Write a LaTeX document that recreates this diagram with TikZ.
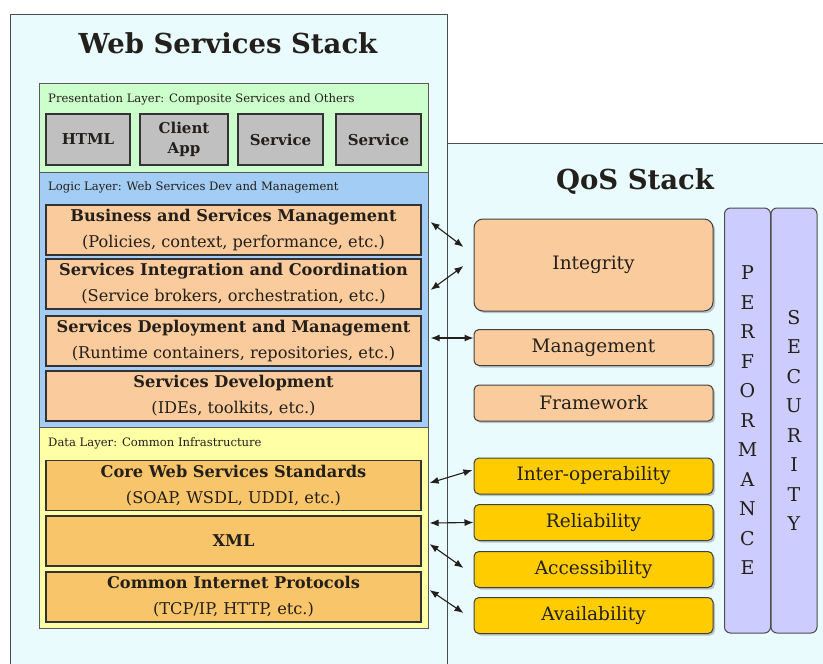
\documentclass[tikz,border=0pt]{standalone}
\usepackage{fontspec}
\setmainfont{DejaVu Serif}
\usetikzlibrary{arrows.meta,shadows}

\definecolor{stackbg}{HTML}{E9FBFD}
\definecolor{presgreen}{HTML}{CCFFCC}
\definecolor{logicblue}{HTML}{A3CDF5}
\definecolor{datayellow}{HTML}{FFFFA6}
\definecolor{peach}{HTML}{FACB9C}
\definecolor{amber}{HTML}{F8C56A}
\definecolor{gold}{HTML}{FFCC00}
\definecolor{lavender}{HTML}{CCCCFF}
\definecolor{boxgray}{HTML}{C0C0C0}
\definecolor{ink}{HTML}{231F1A}

\begin{document}
\begin{tikzpicture}[x=1pt, y=-1pt,
            every node/.style={text=ink, inner sep=0pt},
            layer/.style={draw=black!65, line width=0.8pt, anchor=north west},
            layername/.style={anchor=west, font=\fontsize{11.6}{13}\selectfont},
            pbox/.style={draw=black!80, line width=1.2pt, fill=boxgray, minimum height=51pt,
                         align=center, font=\fontsize{15}{20}\selectfont\bfseries},
            wsbox/.style={draw=black!80, line width=1.2pt, fill=peach, minimum width=375pt,
                          minimum height=50pt, align=center, font=\fontsize{16.2}{26}\selectfont},
            databox/.style={wsbox, fill=amber},
            qbox/.style={draw=black!75, line width=1pt, fill=peach, rounded corners=5pt,
                         minimum width=239pt, minimum height=36pt, font=\fontsize{18.5}{20}\selectfont,
                         drop shadow={shadow xshift=2pt, shadow yshift=-2pt, fill=black!45, opacity=.5}},
            goldbox/.style={qbox, fill=gold},
            column/.style={draw=black!70, line width=1pt, fill=lavender, rounded corners=6pt,
                           minimum width=46pt, minimum height=425pt, align=center,
                           font=\fontsize{19}{29.5}\selectfont},
            title/.style={font=\fontsize{27.5}{30}\selectfont\bfseries},
            link/.style={{Latex[length=9pt,width=7pt]}-{Latex[length=9pt,width=7pt]}, line width=1.1pt, draw=ink}]
        \useasboundingbox (0,0) rectangle (823,664);
        % the two stacks
        \fill[stackbg] (447,143) rectangle (823,664);
        \draw[black!70, line width=1pt] (447,664) -- (447,143) -- (823,143);
        \path[fill=stackbg, draw=black!70, line width=1pt] (10,664) -- (10,14) -- (447,14) -- (447,664);
        \node[title] (wstitle) at (228,43) {Web Services Stack};
        \node[title] (qostitle) at (635,182) {QoS Stack};

        % layers
        \node[layer, fill=presgreen, minimum width=389pt, minimum height=89pt] (pres) at (39,83) {};
        \node[layer, fill=logicblue, minimum width=389pt, minimum height=255pt] (logic) at (39,172) {};
        \node[layer, fill=datayellow, minimum width=389pt, minimum height=201pt] (data) at (39,427) {};
        \node[layername] (presname) at (48,99) {Presentation Layer: Composite Services and Others};
        \node[layername] (logicname) at (48,187) {Logic Layer: Web Services Dev and Management};
        \node[layername] (dataname) at (48,443) {Data Layer: Common Infrastructure};

        \node[pbox, minimum width=84pt] (html) at (88,139.5) {HTML};
        \node[pbox, minimum width=88pt] (client) at (184,139.5) {Client\\App};
        \node[pbox, minimum width=85pt] (serva) at (280.5,139.5) {Service};
        \node[pbox, minimum width=85pt] (servb) at (378.5,139.5) {Service};

        \node[wsbox] (bsm) at (233.5,230) {{\bfseries Business and Services Management}\\(Policies, context, performance, etc.)};
        \node[wsbox] (sic) at (233.5,284) {{\bfseries Services Integration and Coordination}\\(Service brokers, orchestration, etc.)};
        \node[wsbox] (sdm) at (233.5,341) {{\bfseries Services Deployment and Management}\\(Runtime containers, repositories, etc.)};
        \node[wsbox] (sdev) at (233.5,396) {{\bfseries Services Development}\\(IDEs, toolkits, etc.)};

        \node[databox] (core) at (233.5,485.5) {{\bfseries Core Web Services Standards}\\(SOAP, WSDL, UDDI, etc.)};
        \node[databox] (xml) at (233.5,541) {\bfseries XML};
        \node[databox] (cip) at (233.5,597) {{\bfseries Common Internet Protocols}\\(TCP/IP, HTTP, etc.)};

        % qos side
        \node[qbox, minimum height=92pt, rounded corners=9pt] (integ) at (593.5,265) {Integrity};
        \node[qbox] (mgmt) at (593.5,347.5) {Management};
        \node[qbox] (frame) at (593.5,403) {Framework};
        \node[goldbox] (inter) at (593.5,476) {Inter-operability};
        \node[goldbox] (rel) at (593.5,522.5) {Reliability};
        \node[goldbox] (acc) at (593.5,569.5) {Accessibility};
        \node[goldbox] (avail) at (593.5,615.5) {Availability};

        \node[column] (perf) at (747.5,420.5) {P\\E\\R\\F\\O\\R\\M\\A\\N\\C\\E};
        \node[column] (sec) at (794,420.5) {S\\E\\C\\U\\R\\I\\T\\Y};

        % links between the stacks
        \draw[link] ([xshift=9pt,yshift=8pt]bsm.east) -- ([xshift=-10pt,yshift=18pt]integ.west);
        \draw[link] ([xshift=9pt,yshift=-6pt]sic.east) -- ([xshift=-10pt,yshift=-1pt]integ.west);
        \draw[link] ([xshift=9pt,yshift=3pt]sdm.east) -- ([yshift=9.5pt]mgmt.west);
        \draw[link] ([xshift=8pt,yshift=2.5pt]core.east) -- ([xshift=-1pt,yshift=6pt]inter.west);
        \draw[link] ([xshift=8pt,yshift=18pt]xml.east) -- (rel.west);
        \draw[link] ([xshift=8pt,yshift=-3pt]xml.east) -- ([xshift=-10pt,yshift=1.5pt]acc.west);
        \draw[link] ([xshift=8pt,yshift=7pt]cip.east) -- ([xshift=-10pt,yshift=2.5pt]avail.west);
\end{tikzpicture}
\end{document}
